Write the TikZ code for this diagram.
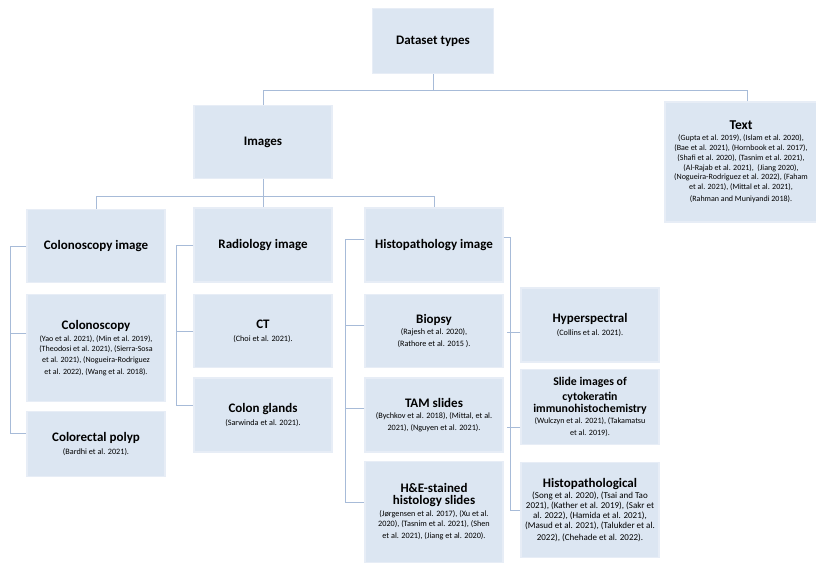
\documentclass[tikz,border=0pt]{standalone}
\usepackage{fontspec}
\setmainfont{Carlito}
\definecolor{boxfill}{RGB}{220,230,242}
\definecolor{boxedge}{RGB}{231,237,246}
\definecolor{linkcol}{RGB}{167,187,216}
\tikzstyle{box}=[rectangle, fill=boxfill, draw=boxedge, line width=1.2pt, align=flush center, inner sep=2pt, minimum width=136pt, text width=134pt]
\tikzset{link/.style={draw=linkcol, line width=0.8pt}}
\newcommand{\hd}[1]{{\fontsize{13}{15}\selectfont\bfseries #1}}
\newcommand{\rf}{\fontsize{8.2}{10.4}\selectfont}

\begin{document}
\begin{tikzpicture}[x=1pt,y=-1pt]
  \useasboundingbox (0,0) rectangle (816,565);
  %% Top levels
  \draw (433,41) node[box,minimum width=121pt,text width=117pt,minimum height=65pt] (data) {\hd{Dataset types}};
  \draw (263,142) node[box,minimum width=135pt,minimum height=73pt] (images) {\hd{Images}};
  \draw (741,162) node[box,minimum width=148pt,text width=148pt,minimum height=120pt] (text) {{\fontsize{13.5}{15}\selectfont\bfseries Text}\\[1pt] \fontsize{8}{9.8}\selectfont (Gupta et al. 2019), (Islam et al. 2020),\\ (Bae et al. 2021), (Hornbook et al. 2017),\\ (Shafi et al. 2020), (Tasnim et al. 2021),\\ (Al-Rajab et al. 2021),~ (Jiang 2020),\\ (Nogueira-Rodriguez et al. 2022), (Faham\\ et al. 2021), (Mittal et al. 2021),\\ (Rahman and Muniyandi 2018).};

  %% Image types
  \draw (96,246) node[box,minimum height=73pt] (colimg) {\hd{Colonoscopy image}};
  \draw (263,245) node[box,minimum width=137pt,minimum height=74pt] (radimg) {\hd{Radiology image}};
  \draw (434,245) node[box,minimum height=74pt] (histimg) {\hd{Histopathology image}};

  %% Colonoscopy
  \draw (96,348) node[box,minimum height=107pt] (colono) {\hd{Colonoscopy}\\[1pt] \fontsize{8}{10.6}\selectfont (Yao et al. 2021), (Min et al. 2019),\\ (Theodosi et al. 2021), (Sierra-Sosa\\ et al. 2021), (Nogueira-Rodriguez\\ et al. 2022), (Wang et al. 2018).};
  \draw (96,444) node[box,minimum height=65pt] (polyp) {\hd{Colorectal polyp}\\[1pt] \rf (Bardhi et al. 2021).};

  %% Radiology
  \draw (263,331) node[box,minimum width=137pt,minimum height=73pt] (ct) {\hd{CT}\\[1pt] \rf (Choi et al. 2021).};
  \draw (263,415) node[box,minimum width=137pt,minimum height=74pt] (glands) {\hd{Colon glands}\\[1pt] \rf (Sarwinda et al. 2021).};

  %% Histopathology
  \draw (434,331) node[box,minimum height=73pt] (biopsy) {\hd{Biopsy}\\[1pt] \rf (Rajesh et al. 2020),\\ (Rathore et al. 2015 ).};
  \draw (434,415) node[box,minimum height=74pt] (tam) {\hd{TAM slides}\\[1pt] \rf (Bychkov et al. 2018), (Mittal, et al.\\ 2021), (Nguyen et al. 2021).};
  \draw (434,512) node[box,minimum height=101pt] (he) {\hd{H\&E-stained\\ histology slides}\\[1pt] \rf (Jørgensen et al. 2017), (Xu et al.\\ 2020), (Tasnim et al. 2021), (Shen\\ et al. 2021), (Jiang et al. 2020).};
  \draw (590,325) node[box,minimum width=136pt,minimum height=74pt] (hyper) {\hd{Hyperspectral}\\[1pt] \rf (Collins et al. 2021).};
  \draw (590,407) node[box,minimum width=136pt,minimum height=75pt] (slide) {{\fontsize{11.8}{15}\selectfont\bfseries Slide images of\\ cytokeratin\\ immunohistochemistry}\\[1pt] \fontsize{8.1}{10.2}\selectfont (Wulczyn et al. 2021), (Takamatsu\\ et al. 2019).};
  \draw (590,510) node[box,minimum width=136pt,minimum height=95pt] (histo) {\hd{Histopathological}\\[1pt] \fontsize{9}{10.2}\selectfont (Song et al. 2020), (Tsai and Tao\\ 2021), (Kather et al. 2019), (Sakr et\\ al. 2022), (Hamida et al. 2021),\\ (Masud et al. 2021), (Talukder et al.\\ 2022), (Chehade et al. 2022).};

  %% Tree lines
  \draw[link] (data.south) -- ++(0,16) coordinate (bus1);
  \draw[link] (images.north) |- (bus1) -| ([xshift=6pt]text.north);
  \draw[link] (images.south) -- ++(0,17) coordinate (bus2);
  \draw[link] (colimg.north) |- (bus2) -| (histimg.north);
  \draw[link] (bus2) -- (radimg.north);

  %% Brackets
  \draw[link] (colimg.west) -- ++(-16,0) |- ([yshift=11pt]polyp.west);
  \draw[link] ([yshift=15pt]colono.west) -- ++(-16,0);

  \draw[link] (radimg.west) -- ++(-17,0) |- ([yshift=10pt]glands.west);
  \draw[link] (ct.west) -- ++(-17,0);

  \draw[link] ([yshift=6pt]histimg.west) -- ++(-19,0) |- ([yshift=10pt]he.west);
  \draw[link] ([yshift=6pt]biopsy.west) -- ++(-19,0);
  \draw[link] ([yshift=7pt]tam.west) -- ++(-19,0);

  \draw[link] ([yshift=8pt]histimg.east) -- ++(7,0) |- (histo.west);
  \draw[link] ([yshift=-7pt]hyper.west) -- ++(-13,0);
  \draw[link] ([yshift=-20pt]slide.west) -- ++(-13,0);
\end{tikzpicture}
\end{document}
